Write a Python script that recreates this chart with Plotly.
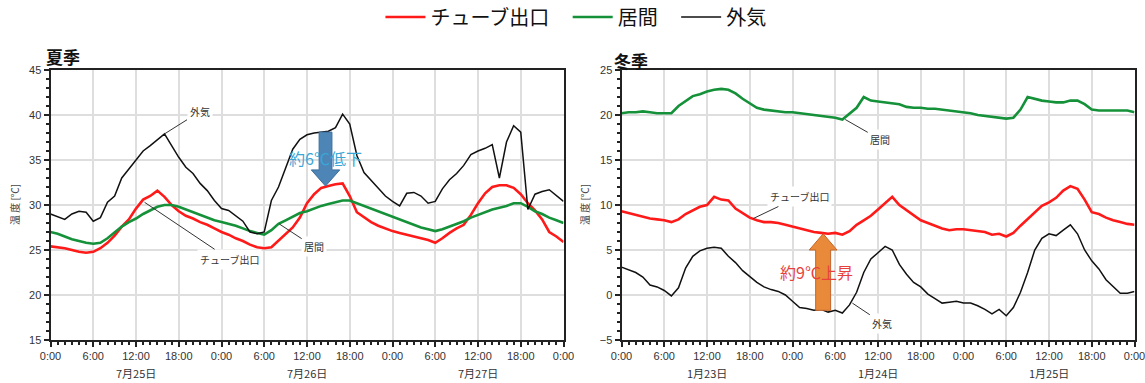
import plotly.graph_objects as go

# ---------------- data (hourly readings, hour 0..72) ----------------
hours = list(range(73))
tick_hours = list(range(0, 73, 6))
tick_labels = ["0:00", "6:00", "12:00", "18:00"] * 3 + ["0:00"]

summer_days = ["7月25日", "7月26日", "7月27日"]
winter_days = ["1月23日", "1月24日", "1月25日"]
day_centers = [12, 36, 60]

summer_tube = [25.4, 25.3, 25.2, 25.0, 24.8, 24.7, 24.8, 25.2, 25.8, 26.6, 27.6, 28.4, 29.6, 30.6,
               31.0, 31.6, 30.9, 30.0, 29.3, 28.8, 28.5, 28.1, 27.8, 27.4, 27.0, 26.7, 26.3, 26.0,
               25.6, 25.3, 25.2, 25.3, 26.0, 26.8, 27.5, 28.6, 30.2, 31.2, 31.9, 32.1, 32.3, 32.4,
               31.0, 29.2, 28.6, 28.1, 27.7, 27.4, 27.1, 26.9, 26.7, 26.5, 26.3, 26.1, 25.8, 26.3,
               26.9, 27.4, 27.8, 28.9, 30.2, 31.3, 32.0, 32.2, 32.2, 31.9, 31.2, 30.2, 29.4, 28.4,
               27.0, 26.5, 25.9]
summer_room = [27.0, 26.8, 26.5, 26.2, 26.0, 25.8, 25.7, 25.8, 26.3, 27.0, 27.6, 28.1, 28.5, 29.0,
               29.4, 29.8, 30.0, 30.0, 29.8, 29.5, 29.2, 28.9, 28.6, 28.3, 28.1, 27.9, 27.7, 27.4,
               27.1, 26.9, 26.7, 27.2, 27.9, 28.3, 28.7, 29.1, 29.3, 29.6, 29.9, 30.1, 30.3, 30.5,
               30.5, 30.2, 29.9, 29.6, 29.3, 29.0, 28.7, 28.4, 28.1, 27.8, 27.5, 27.3, 27.1, 27.3,
               27.6, 27.9, 28.2, 28.6, 28.9, 29.2, 29.5, 29.7, 29.9, 30.2, 30.2, 29.8, 29.3, 29.0,
               28.6, 28.3, 28.0]
summer_out = [29.0, 28.7, 28.4, 29.0, 29.3, 29.2, 28.2, 28.6, 30.3, 31.0, 33.0, 34.0, 35.0, 36.0,
              36.6, 37.2, 37.9, 36.6, 35.3, 34.2, 33.5, 32.4, 31.6, 30.5, 29.6, 29.4, 28.8, 28.2,
              27.0, 26.8, 27.0, 30.5, 32.0, 34.0, 36.2, 37.3, 37.8, 38.0, 38.1, 38.2, 38.6, 40.1,
              39.0, 35.5, 33.6, 32.7, 31.8, 31.0, 30.4, 29.9, 31.3, 31.4, 31.0, 30.2, 30.4, 31.8,
              32.8, 33.5, 34.4, 35.6, 36.0, 36.3, 36.7, 33.0, 37.0, 38.8, 38.1, 29.5, 31.2, 31.5,
              31.7, 31.0, 30.4]

winter_tube = [9.3, 9.1, 8.9, 8.7, 8.5, 8.4, 8.3, 8.1, 8.4, 9.0, 9.4, 9.8, 10.0, 10.9, 10.6, 10.5,
               9.6, 9.1, 8.6, 8.3, 8.1, 8.1, 8.0, 7.8, 7.6, 7.4, 7.2, 7.0, 6.9, 6.8, 6.9, 6.7, 7.1,
               7.8, 8.3, 8.8, 9.5, 10.2, 10.9, 10.0, 9.4, 8.8, 8.3, 8.0, 7.7, 7.4, 7.2, 7.3, 7.3,
               7.2, 7.1, 7.0, 6.7, 6.8, 6.5, 6.9, 7.7, 8.4, 9.2, 9.9, 10.3, 10.8, 11.6, 12.1, 11.8,
               10.6, 9.2, 9.0, 8.6, 8.3, 8.1, 7.9, 7.8]
winter_room = [20.2, 20.3, 20.3, 20.4, 20.3, 20.2, 20.2, 20.2, 21.0, 21.6, 22.1, 22.3, 22.6, 22.8,
               22.9, 22.8, 22.4, 21.8, 21.3, 20.8, 20.6, 20.5, 20.4, 20.3, 20.3, 20.2, 20.1, 20.0,
               19.9, 19.8, 19.7, 19.5, 20.2, 20.8, 22.0, 21.6, 21.5, 21.4, 21.3, 21.2, 20.9, 20.8,
               20.8, 20.7, 20.7, 20.6, 20.5, 20.4, 20.3, 20.2, 20.0, 19.9, 19.8, 19.7, 19.6, 19.7,
               20.6, 22.0, 21.8, 21.6, 21.5, 21.4, 21.4, 21.6, 21.6, 21.2, 20.6, 20.5, 20.5, 20.5,
               20.5, 20.5, 20.3]
winter_out = [3.1, 2.8, 2.5, 2.0, 1.1, 0.9, 0.5, -0.1, 0.8, 3.0, 4.3, 4.9, 5.2, 5.3, 5.2, 4.3, 3.6,
              2.7, 2.0, 1.4, 0.9, 0.6, 0.4, 0.0, -0.7, -1.4, -1.5, -1.7, -1.6, -1.9, -1.7, -2.0,
              -1.1, 0.3, 2.5, 4.0, 4.7, 5.4, 5.0, 3.4, 2.3, 1.4, 0.9, 0.1, -0.4, -0.9, -0.8, -0.7,
              -0.9, -0.9, -1.2, -1.6, -2.1, -1.6, -2.3, -1.4, 0.3, 2.5, 5.0, 6.3, 6.8, 6.6, 7.2,
              7.8, 6.8, 5.0, 3.8, 2.9, 1.7, 0.9, 0.2, 0.2, 0.4]

series_names = ["チューブ出口", "居間", "外気"]

# ---------------- styling ----------------
RED, GREEN, BLACK = "#ff1a1a", "#149139", "#111111"
JP = "Noto Sans CJK JP"
NUM = "Liberation Sans, Noto Sans CJK JP"
W, H = 1145, 383
PAD = "\u00a0\u00a0\u00a0"

fig = go.Figure()

def add_set(xa, ya, tube, room, out, show):
    for vals, name, col, w, pad in [(tube, series_names[0], RED, 2.6, PAD),
                                    (room, series_names[1], GREEN, 2.6, PAD),
                                    (out, series_names[2], BLACK, 1.5, "")]:
        fig.add_trace(go.Scatter(x=hours, y=vals, mode="lines", name=name + pad,
                                 line=dict(color=col, width=w), xaxis=xa, yaxis=ya,
                                 showlegend=show, legendgroup=name))

add_set("x", "y", summer_tube, summer_room, summer_out, True)
add_set("x2", "y2", winter_tube, winter_room, winter_out, False)

axis_common = dict(showline=True, linewidth=2, linecolor="#222", mirror=True, automargin=False,
                   showgrid=True, gridcolor="#dedede", gridwidth=1.5, zeroline=False,
                   ticks="outside", ticklen=5, tickwidth=1.5, tickcolor="#222",
                   ticklabeloverflow="allow",
                   tickfont=dict(family=NUM, size=11, color="#333"))
minor = dict(dtick=1, ticks="outside", ticklen=3, tickcolor="#222", showgrid=False)

fig.update_layout(
    width=W, height=H, margin=dict(l=0, r=0, t=0, b=0, autoexpand=False),
    paper_bgcolor="white", plot_bgcolor="white",
    font=dict(family=JP, color="#222"),
    showlegend=True,
    legend=dict(orientation="h", x=0.503, xanchor="center", y=1 - 17 / H, yanchor="middle",
                xref="container", yref="container",
                font=dict(family=JP, size=20, color="#111"), itemwidth=40,
                tracegroupgap=0, bgcolor="rgba(0,0,0,0)"),
    xaxis=dict(domain=[50.5 / W, 563.5 / W], range=[0, 72], tickvals=tick_hours,
               ticktext=tick_labels, anchor="y", minor=minor, **axis_common),
    yaxis=dict(domain=[1 - 340 / H, 1 - 70 / H], range=[15, 45], dtick=5, anchor="x",
               minor=minor, **axis_common),
    xaxis2=dict(domain=[621.5 / W, 1134.5 / W], range=[0, 72], tickvals=tick_hours,
                ticktext=tick_labels, anchor="y2", minor=minor, **axis_common),
    yaxis2=dict(domain=[1 - 340 / H, 1 - 70 / H], range=[-5, 25], dtick=5, anchor="x2",
                minor=minor, **axis_common),
)

ann = []
# panel titles
ann.append(dict(text="<b>夏季</b>", xref="paper", yref="paper", x=44 / W, y=1 - 57 / H,
                xanchor="left", yanchor="middle", showarrow=False,
                font=dict(family=JP, size=17, color="#111")))
ann.append(dict(text="<b>冬季</b>", xref="paper", yref="paper", x=612 / W, y=1 - 60 / H,
                xanchor="left", yanchor="middle", showarrow=False,
                font=dict(family=JP, size=17, color="#111")))
# y-axis titles
for xp in (14, 584):
    ann.append(dict(text="温 度 [℃]", xref="paper", yref="paper", x=xp / W, y=1 - 205 / H,
                    textangle=-90, showarrow=False, xanchor="center", yanchor="middle",
                    font=dict(family=JP, size=10, color="#444")))
# date labels
for xa, days in (("x", summer_days), ("x2", winter_days)):
    for d, c in zip(days, day_centers):
        ann.append(dict(text=d, xref=xa, yref="paper", x=c, y=1 - 373 / H, showarrow=False,
                        xanchor="center", yanchor="middle",
                        font=dict(family=JP, size=11, color="#333")))

# callout labels (point on curve, pixel offset of text)
callouts = [("x", "y", 16.0, 37.9, 35, -22, "外気"),
            ("x", "y", 13.2, 30.3, 85, 57, "チューブ出口"),
            ("x", "y", 32.1, 27.9, 35, 23, "居間"),
            ("x2", "y2", 31.4, 19.5, 35, 20, "居間"),
            ("x2", "y2", 18.5, 8.5, 46, -22, "チューブ出口"),
            ("x2", "y2", 32.4, -0.9, 30, 20, "外気")]
for xa, ya, x, y, ax, ay, t in callouts:
    ann.append(dict(text=t, xref=xa, yref=ya, x=x, y=y, ax=ax, ay=ay, axref="pixel",
                    ayref="pixel", showarrow=True, arrowhead=0, arrowwidth=1, arrowcolor="#333",
                    bgcolor="white", borderpad=2,
                    font=dict(family=JP, size=10, color="#333")))

# big arrow labels
ann.append(dict(text="約6℃低下", xref="x", yref="y", x=38.6, y=35.2, showarrow=False,
                font=dict(family=JP, size=16, color="#3aa6d6")))
ann.append(dict(text="約9℃上昇", xref="x2", yref="y2", x=27.4, y=2.6, showarrow=False,
                font=dict(family=JP, size=16, color="#e8413c")))
fig.update_layout(annotations=ann)

# block arrows (centre hour, tail value, tip value, shaft & head half widths in hours, head length)
def block_arrow(xc, y_tail, y_tip, half_shaft, half_head, head_len):
    sgn = 1 if y_tip > y_tail else -1
    yb = y_tip - sgn * head_len
    pts = [(xc - half_shaft, y_tail), (xc - half_shaft, yb), (xc - half_head, yb),
           (xc, y_tip), (xc + half_head, yb), (xc + half_shaft, yb), (xc + half_shaft, y_tail)]
    return "M " + " L ".join(f"{px},{py}" for px, py in pts) + " Z"

fig.add_shape(type="path", xref="x", yref="y",
              path=block_arrow(38.6, 38.1, 32.1, 0.9, 2.0, 1.8),
              fillcolor="#4d85b6", line=dict(color="#3f6f9c", width=1))
fig.add_shape(type="path", xref="x2", yref="y2",
              path=block_arrow(28.3, -1.7, 6.8, 1.05, 1.95, 1.8),
              fillcolor="#e98a3a", line=dict(color="#c4652a", width=1))

fig.write_html("out.html", config={"displayModeBar": False},
               post_script="document.body.style.margin='0';document.body.style.overflow='hidden';")
